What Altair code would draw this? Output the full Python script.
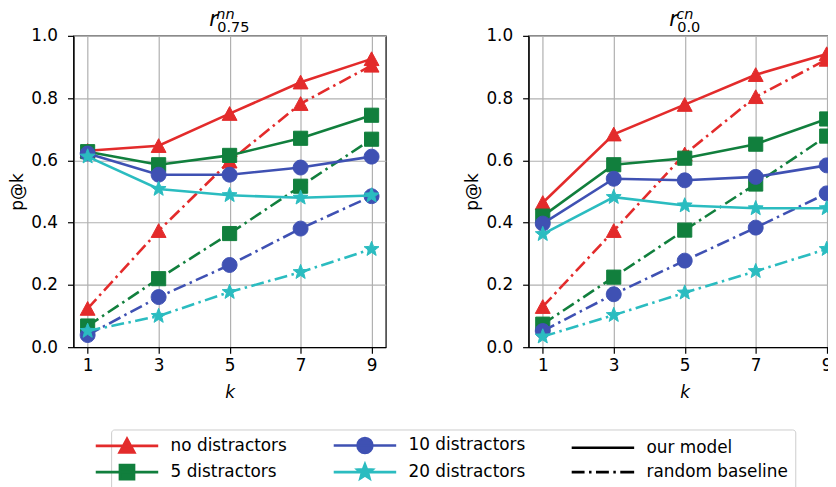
import math
import altair as alt
import pandas as pd

# ---------------- data ----------------
k_values = [1, 3, 5, 7, 9]
series_names = ["no distractors", "5 distractors", "10 distractors", "20 distractors"]
series_colors = ["#e32b2b", "#117f3d", "#3f51b3", "#2bbcc0"]

# panel 1: r^{nn}_{0.75}
nn_model_no = [0.631, 0.647, 0.750, 0.851, 0.926]
nn_model_5 = [0.628, 0.586, 0.616, 0.671, 0.745]
nn_model_10 = [0.622, 0.554, 0.554, 0.577, 0.612]
nn_model_20 = [0.612, 0.508, 0.488, 0.480, 0.487]
nn_random_no = [0.124, 0.374, 0.597, 0.782, 0.905]
nn_random_5 = [0.068, 0.220, 0.365, 0.517, 0.668]
nn_random_10 = [0.039, 0.161, 0.264, 0.381, 0.485]
nn_random_20 = [0.052, 0.100, 0.177, 0.241, 0.315]

# panel 2: r^{cn}_{0.0}
cn_model_no = [0.464, 0.684, 0.779, 0.875, 0.942]
cn_model_5 = [0.421, 0.586, 0.607, 0.652, 0.733]
cn_model_10 = [0.397, 0.541, 0.536, 0.547, 0.584]
cn_model_20 = [0.363, 0.482, 0.455, 0.446, 0.446]
cn_random_no = [0.130, 0.374, 0.620, 0.804, 0.924]
cn_random_5 = [0.074, 0.225, 0.376, 0.524, 0.678]
cn_random_10 = [0.052, 0.170, 0.278, 0.384, 0.494]
cn_random_20 = [0.034, 0.103, 0.175, 0.244, 0.315]

y_ticks = [0.0, 0.2, 0.4, 0.6, 0.8, 1.0]
legend_entries = ["no distractors", "5 distractors", "10 distractors",
                  "20 distractors", "our model", "random baseline"]
legend_colors = ["#e32b2b", "#117f3d", "#3f51b3", "#2bbcc0", "#000000", "#000000"]

FONT = "DejaVu Sans"

# ---------------- marker shapes (unit coordinates) ----------------
def star_path(outer=1.05, inner=0.45):
    pts = []
    for i in range(10):
        a = math.pi / 2 + i * math.pi / 5
        r = outer if i % 2 == 0 else inner
        pts.append(f"{r * math.cos(a):.3f},{-r * math.sin(a):.3f}")
    return "M" + "L".join(pts) + "Z"

TRI = "M0,-0.95L-1,0.9L1,0.9Z"
CIRC = "M-1,0A1,1,0,1,0,1,0A1,1,0,1,0,-1,0Z"
SQR = "M-0.95,-0.95H0.95V0.95H-0.95Z"
STAR = star_path()
marker_paths = [TRI, SQR, CIRC, STAR]

LINE = "M-4.2,0H4.2"
DASHDOT = "M-4.2,0H-2.467M-1.867,0H-1.533M-0.933,0H0.8M1.4,0H1.733M2.333,0H4.2"
legend_paths = [LINE + TRI, LINE + SQR, LINE + CIRC, LINE + STAR, LINE, DASHDOT]

MARKER_SIZE = 225
LW = 2.6
DASH = [13, 4.5, 2.5, 4.5]

x_enc = alt.X("k:Q", scale=alt.Scale(domain=[0.6, 9.4], nice=False, zero=False),
              axis=alt.Axis(values=k_values, title="k", titleFontStyle="italic",
                            format="d", grid=True, labelFlush=False, titlePadding=11))
y_enc = alt.Y("p:Q", scale=alt.Scale(domain=[0, 1], nice=False),
              axis=alt.Axis(values=y_ticks, title="p@k", format=".1f", grid=True,
                            labelFlush=False, titlePadding=4, labelPadding=10))


def panel(model_lists, random_lists, sup, sub, r_x, with_legend=False):
    layers = []
    for name, color, mpath, mv, rv in zip(series_names, series_colors, marker_paths,
                                          model_lists, random_lists):
        for vals, dash in ((mv, None), (rv, DASH)):
            df = pd.DataFrame({"k": k_values, "p": vals, "series": name})
            line_kw = dict(color=color, strokeWidth=LW)
            if dash is not None:
                line_kw["strokeDash"] = dash
            layers.append(alt.Chart(df).mark_line(**line_kw).encode(x=x_enc, y=y_enc))
            layers.append(alt.Chart(df).mark_point(
                shape=mpath, filled=True, fill=color, stroke=color, strokeWidth=1,
                opacity=1, size=MARKER_SIZE).encode(x=x_enc, y=y_enc))
    # title r^{sup}_{sub}
    t = pd.DataFrame({"t": ["r"]})
    layers.append(alt.Chart(t).mark_text(font=FONT, fontSize=21, fontStyle="italic",
                                         align="left", baseline="alphabetic", color="black")
                  .encode(text="t:N", x=alt.value(r_x), y=alt.value(-10)))
    t2 = pd.DataFrame({"t": [sup]})
    layers.append(alt.Chart(t2).mark_text(font=FONT, fontSize=14.6, fontStyle="italic",
                                          align="left", baseline="alphabetic", color="black")
                  .encode(text="t:N", x=alt.value(r_x + 7), y=alt.value(-17)))
    t3 = pd.DataFrame({"t": [sub]})
    layers.append(alt.Chart(t3).mark_text(font=FONT, fontSize=14.6,
                                          align="left", baseline="alphabetic", color="black")
                  .encode(text="t:N", x=alt.value(r_x + 8), y=alt.value(-4)))
    if with_legend:
        ldf = pd.DataFrame({"entry": legend_entries, "k": [1] * 6, "p": [0] * 6})
        leg = alt.Legend(title=None, orient="none", legendX=38, legendY=397, columns=3,
                         symbolSize=MARKER_SIZE, symbolStrokeWidth=LW,
                         labelFont=FONT, labelFontSize=17, labelColor="black",
                         columnPadding=41, rowPadding=0, padding=7,
                         strokeColor="#cccccc", cornerRadius=3, fillColor="white",
                         symbolOffset=0, labelOffset=35, labelLimit=0,
                         symbolOpacity=1)
        layers.append(alt.Chart(ldf).transform_filter("false").mark_point(
            filled=True, opacity=1, strokeWidth=LW).encode(
            x=x_enc, y=y_enc,
            fill=alt.Fill("entry:N", scale=alt.Scale(domain=legend_entries, range=legend_colors), legend=leg),
            stroke=alt.Stroke("entry:N", scale=alt.Scale(domain=legend_entries, range=legend_colors), legend=leg),
            shape=alt.Shape("entry:N", scale=alt.Scale(domain=legend_entries, range=legend_paths), legend=leg),
        ))
    return alt.layer(*layers).properties(width=315, height=314)


left = panel([nn_model_no, nn_model_5, nn_model_10, nn_model_20],
             [nn_random_no, nn_random_5, nn_random_10, nn_random_20],
             "nn", "0.75", 137, with_legend=True)
right = panel([cn_model_no, cn_model_5, cn_model_10, cn_model_20],
              [cn_random_no, cn_random_5, cn_random_10, cn_random_20],
              "cn", "0.0", 142)

chart = alt.hconcat(left, right, spacing=77).properties(
    padding={"left": 0, "top": -4, "right": -14, "bottom": 0},
    background="white",
).configure_view(stroke="black", strokeWidth=1.2).configure_axis(
    domainColor="black", domainWidth=1.2, tickColor="black", tickWidth=1.2, tickSize=6,
    gridColor="#b0b0b0", gridWidth=1.2, labelFont=FONT, labelFontSize=17, labelColor="black",
    labelPadding=5, titleFont=FONT, titleFontSize=17, titleFontWeight="normal", titleColor="black",
)

chart.save("out.html", embed_options={"renderer": "svg", "actions": False})
